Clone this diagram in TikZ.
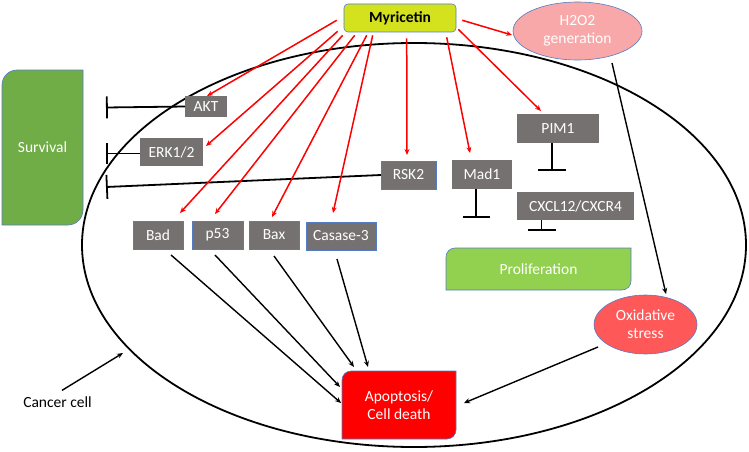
\documentclass[tikz,border=0pt]{standalone}
\usepackage{fontspec}
\setmainfont{Carlito}
\usetikzlibrary{arrows.meta,calc,shapes.geometric}
\pgfdeclarelayer{background}
\pgfsetlayers{background,main}
\definecolor{grayb}{RGB}{118,113,113}
\definecolor{bord}{RGB}{84,124,196}
\definecolor{myrc}{RGB}{212,226,30}
\definecolor{survc}{RGB}{112,173,71}
\definecolor{prolc}{RGB}{146,208,80}
\definecolor{h2c}{RGB}{248,168,168}
\definecolor{oxc}{RGB}{255,88,88}
\definecolor{apc}{RGB}{255,0,0}
\newcommand{\diagshape}[3]{%
  \path[#3] let \p1=(#1.north west), \p2=(#1.south east) in
    (\x1,{\y1-#2}) -- (\x1,\y2) -- ({\x2-#2},\y2)
    .. controls ({\x2-0.448*#2},\y2) and (\x2,{\y2+0.448*#2}) .. (\x2,{\y2+#2})
    -- (\x2,\y1) -- ({\x1+#2},\y1)
    .. controls ({\x1+0.448*#2},\y1) and (\x1,{\y1-0.448*#2}) .. (\x1,{\y1-#2}) -- cycle;}
\begin{document}
\begin{tikzpicture}[x=1pt,y=-1pt,
  every node/.style={font=\fontsize{15.5}{18}\selectfont},
  gbox/.style={fill=grayb,text=white,inner sep=0pt,outer sep=0pt},
  gboxb/.style={gbox,draw=bord,line width=0.6pt},
  redarr/.style={draw=red,line width=1.5pt,-{Stealth[length=6pt,width=5pt]}},
  blkarr/.style={draw=black,line width=1.4pt,-{Stealth[length=6pt,width=5pt]}},
  inhib/.style={draw=black,line width=1.8pt,-{Bar[width=#1]}},
  txtbox/.style={inner sep=0pt,outer sep=0pt,text=white,align=center}]
\useasboundingbox (0,0) rectangle (749,452);

% cell
\node[ellipse,draw,line width=1.8pt,minimum width=664,minimum height=404,inner sep=0pt] (cell) at (414,245) {};

% boxes
\node[gbox,minimum width=42,minimum height=21] (akt) at (206,106.5) {AKT};
\node[gbox,minimum width=63,minimum height=28] (erk) at (171.5,152) {ERK1/2};
\node[gboxb,minimum width=55,minimum height=28] (rsk) at (408.5,175) {RSK2};
\node[gbox,minimum width=60,minimum height=29] (mad) at (482,174.5) {Mad1};
\node[gbox,minimum width=82,minimum height=29] (pim) at (558,128.5) {PIM1};
\node[gbox,minimum width=117,minimum height=28] (cxcl) at (575.5,206) {CXCL12/CXCR4};
\node[gboxb,minimum width=50,minimum height=28] (bad) at (158,235) {Bad};
\node[gboxb,minimum width=51,minimum height=28] (p53) at (217.5,235) {p53};
\node[gboxb,minimum width=50,minimum height=28] (bax) at (274,235) {Bax};
\node[gboxb,minimum width=70,minimum height=28] (cas) at (341,236) {Casase-3};

\node[fill=myrc,draw=bord,line width=0.6pt,rounded corners=4pt,minimum width=112,minimum height=28,inner sep=0pt,font=\fontsize{15.5}{18}\selectfont\bfseries] (myr) at (400,18) {Myricetin};
\node[ellipse,fill=h2c,draw=bord,line width=0.6pt,minimum width=129,minimum height=58,txtbox] (h2o2) at (577.5,31) {H2O2\\generation};
\node[ellipse,fill=oxc,draw=bord,line width=0.6pt,minimum width=103,minimum height=59,txtbox] (ox) at (645.5,324.5) {Oxidative\\stress};

\node[txtbox,minimum width=81,minimum height=155] (surv) at (42.5,147.5) {Survival};
\node[txtbox,minimum width=185,minimum height=42] (prol) at (538.5,269) {Proliferation};
\node[txtbox,minimum width=114,minimum height=68] (apop) at (399,405) {Apoptosis/\\Cell death};
\begin{pgfonlayer}{background}
\diagshape{surv}{15pt}{fill=survc,draw=bord,line width=0.6pt}
\diagshape{prol}{9pt}{fill=prolc,draw=bord,line width=0.6pt}
\diagshape{apop}{9pt}{fill=apc,draw=bord,line width=0.6pt}
\end{pgfonlayer}

\node[inner sep=0pt] (cc) at (57.5,402) {Cancer cell};
\coordinate (cellpt) at (123,353);

% inhibition
\draw[inhib=22pt] (akt.west) -- ++(-79,1);
\draw[inhib=21pt] ($(erk.west)+(0,1.5)$) -- ++(-34,0);
\draw[inhib=24pt] (rsk.west) -- ++(-275,12);
\draw[inhib=27pt] ($(mad.south)+(-6,0)$) -- ++(0,29);
\draw[inhib=28pt] ($(pim.south)+(-6,0)$) -- ++(0,28);
\draw[inhib=28pt] ($(cxcl.south)+(-34,0)$) -- ++(0,11);

% red arrows
\draw[redarr] ($(myr.south west)+(-7,-12)$) -- ($(akt.north)+(1,0)$);
\draw[redarr] ($(myr.south west)+(-6,-1)$) -- ($(erk.east)+(3,-6)$);
\draw[redarr] ($(myr.south west)+(-1,3)$) -- ($(bad.north)+(22,-8)$);
\draw[redarr] ($(myr.south west)+(11,3)$) -- ($(p53.north)+(-2.5,-7)$);
\draw[redarr] ($(myr.south west)+(23,3)$) -- ($(bax.north)+(-2,-4)$);
\draw[redarr] ($(myr.south west)+(29,3)$) -- ($(cas.north)+(-8,-9)$);
\draw[redarr] ($(myr.south west)+(63,6)$) -- ($(rsk.north)+(-1.5,-6)$);
\draw[redarr] ($(myr.south west)+(103,5)$) -- ($(mad.north)+(-12,-7)$);
\draw[redarr] ($(myr.south east)+(2,-3)$) -- ($(pim.north)+(-17,-3)$);
\draw[redarr] ($(myr.south east)+(6,-12)$) -- ($(h2o2.west)+(-1,4)$);

% black arrows
\draw[blkarr] ($(bad.south)+(13,6)$) -- ($(apop.west)+(-1,-2)$);
\draw[blkarr] ($(p53.south)+(-2.5,6)$) -- ($(apop.north west)+(-2,16)$);
\draw[blkarr] ($(bax.south)+(0,7)$) -- ($(apop.north west)+(12,-4)$);
\draw[blkarr] ($(cas.south)+(-4,9)$) -- ($(apop.north west)+(26,-4)$);
\draw[blkarr] ($(ox.west)+(4,22.5)$) -- ($(apop.east)+(8,-2)$);
\draw[blkarr] ($(h2o2.south)+(34.5,3)$) -- ($(ox.north)+(20.5,-1)$);
\draw[blkarr] ($(cc.north)+(4.5,-6)$) -- (cellpt);
\end{tikzpicture}
\end{document}
